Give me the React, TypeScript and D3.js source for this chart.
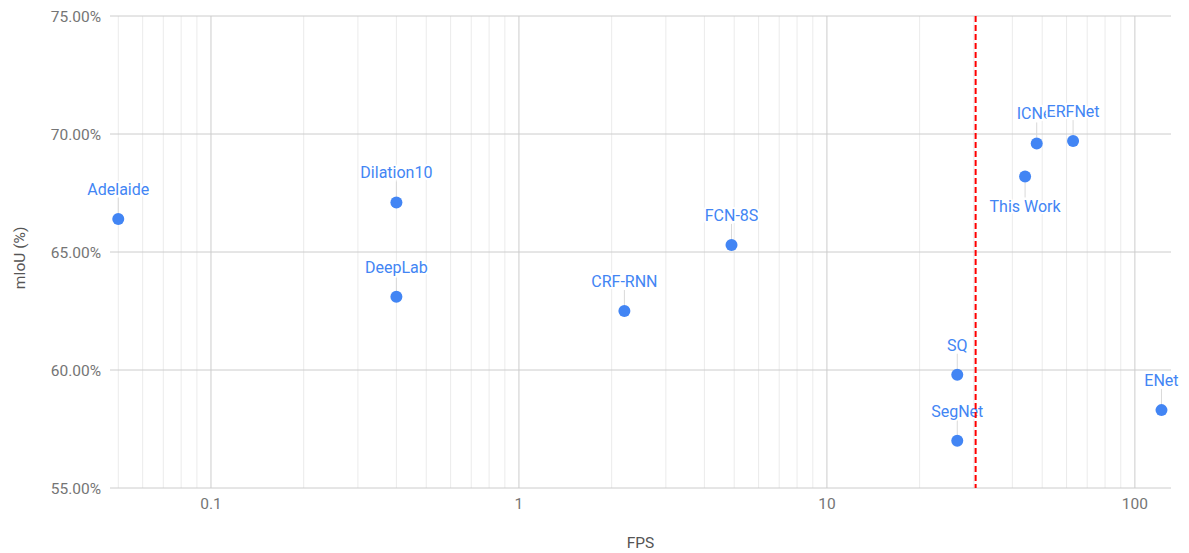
import React from "react";
import * as d3 from "d3";

// Semantic segmentation models: speed vs. accuracy (Cityscapes)
const models = ["Adelaide", "Dilation10", "DeepLab", "CRF-RNN", "FCN-8S", "SQ", "SegNet", "ENet", "ICNet", "ERFNet", "This Work"];
const fps = [0.05, 0.4, 0.4, 2.2, 4.9, 26.5, 26.5, 122, 48, 63, 44];
const miou = [66.4, 67.1, 63.1, 62.5, 65.3, 59.8, 57.0, 58.3, 69.6, 69.7, 68.2];
const labelBelow = ["This Work"];

const xTicks = [0.1, 1, 10, 100];
const yTicks = [55, 60, 65, 70, 75];
const realTimeFps = 30.4;

const W = 1189;
const H = 553;
const FONT = "Roboto, 'Noto Sans', sans-serif";
const BLUE = "#4285F4";

export default function App() {
  const x = d3.scaleLog().domain([0.047, 131]).range([110, 1171]);
  const y = d3.scaleLinear().domain([55, 75]).range([488, 16]);
  const [x0, x1] = x.range();
  const [yb, yt] = y.range();

  const minor: number[] = [];
  for (const dec of [0.01, 0.1, 1, 10, 100]) {
    for (let k = 2; k <= 9; k++) {
      const v = k * dec;
      if (v >= x.domain()[0] && v <= x.domain()[1]) minor.push(v);
    }
  }

  const fmt = d3.format(".2f");

  return (
    <svg width={W} height={H} style={{ position: "absolute", left: 0, top: 0, background: "#fff" }} fontFamily={FONT}>
      <rect width={W} height={H} fill="#fff" />
      {/* minor vertical grid */}
      {minor.map((v) => (
        <line key={"m" + v} x1={x(v)} x2={x(v)} y1={yt} y2={yb} stroke="#ebebeb" strokeWidth={1} />
      ))}
      {/* major vertical grid */}
      {xTicks.map((v) => (
        <line key={"M" + v} x1={x(v)} x2={x(v)} y1={yt} y2={yb} stroke="#cccccc" strokeWidth={1} />
      ))}
      {/* horizontal grid */}
      {yTicks.map((v) => (
        <line key={"h" + v} x1={x0} x2={x1} y1={y(v)} y2={y(v)} stroke="#cccccc" strokeWidth={1} />
      ))}
      {/* y tick labels */}
      {yTicks.map((v) => (
        <text key={"yl" + v} x={101} y={y(v)} dy="0.36em" textAnchor="end" fontSize={15.5} fill="#757575">
          {fmt(v) + "%"}
        </text>
      ))}
      {/* x tick labels */}
      {xTicks.map((v) => (
        <text key={"xl" + v} x={x(v)} y={509} textAnchor="middle" fontSize={15.5} fill="#757575">
          {String(v)}
        </text>
      ))}
      {/* axis titles */}
      <text x={(x0 + x1) / 2} y={548} textAnchor="middle" fontSize={15.5} fill="#555">
        FPS
      </text>
      <text transform={`translate(25,${(yt + yb) / 2 + 6}) rotate(-90)`} textAnchor="middle" fontSize={15.5} fill="#555">
        mIoU (%)
      </text>
      {/* leader lines */}
      {models.map((m, i) => {
        const below = labelBelow.includes(m);
        const px = x(fps[i]);
        const py = y(miou[i]);
        return (
          <line
            key={"ld" + m}
            x1={px}
            x2={px}
            y1={below ? py + 6 : py - 6}
            y2={below ? py + 21 : py - 21}
            stroke="#d9d9d9"
            strokeWidth={1}
          />
        );
      })}
      {/* points */}
      {models.map((m, i) => (
        <circle key={"p" + m} cx={x(fps[i])} cy={y(miou[i])} r={6} fill={BLUE} />
      ))}
      {/* labels */}
      {models.map((m, i) => {
        const below = labelBelow.includes(m);
        const px = x(fps[i]);
        const py = y(miou[i]);
        return (
          <text
            key={"t" + m}
            x={px}
            y={below ? py + 36 : py - 24}
            textAnchor="middle"
            fontSize={16}
            fill={BLUE}
            stroke="#fff"
            strokeWidth={4}
            strokeLinejoin="round"
            paintOrder="stroke"
          >
            {m}
          </text>
        );
      })}
      {/* real-time threshold */}
      <line
        x1={x(realTimeFps)}
        x2={x(realTimeFps)}
        y1={yt}
        y2={yb}
        stroke="#ff0000"
        strokeWidth={2}
        strokeDasharray="6,3"
      />
    </svg>
  );
}
